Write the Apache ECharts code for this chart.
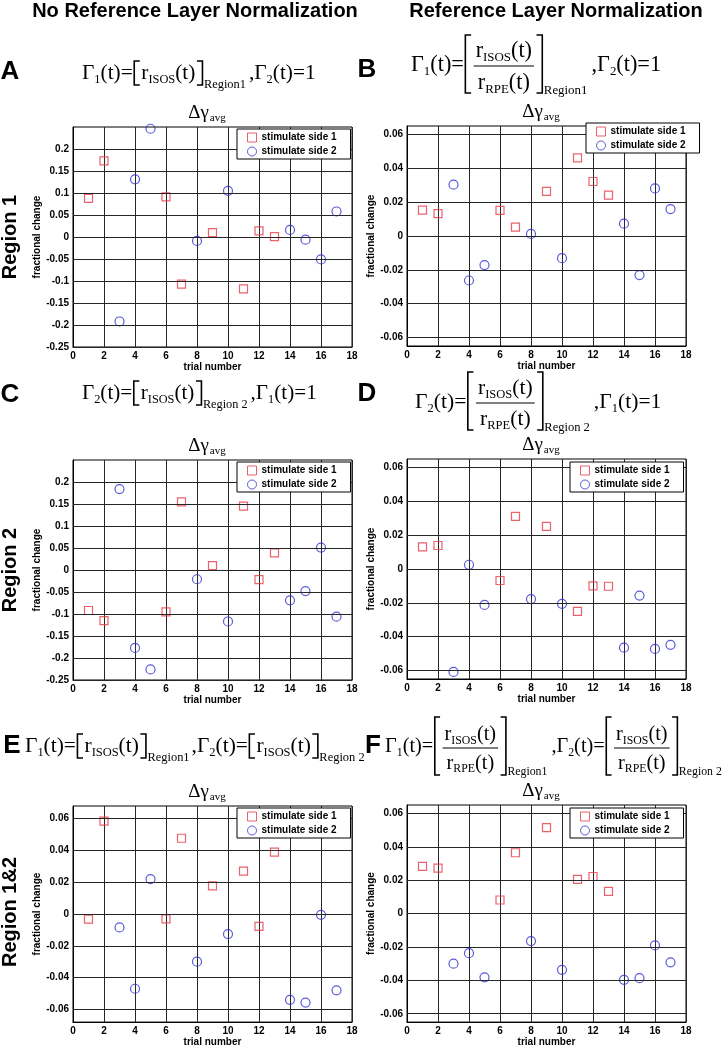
<!DOCTYPE html>
<html><head><meta charset="utf-8">
<script src="https://cdn.jsdelivr.net/npm/echarts@6/dist/echarts.min.js"></script>
<style>html,body{margin:0;padding:0;background:#fff}#c{width:723px;height:1048px}</style>
</head><body><div id="c"></div>
<script>
// ---------------- data ----------------
const trialsSide1 = [1, 2, 6, 7, 9, 11, 12, 13];
const trialsSide2 = [3, 4, 5, 8, 10, 14, 15, 16, 17];
const xTicks = [0, 2, 4, 6, 8, 10, 12, 14, 16, 18];
const yTicksWide = [-0.25, -0.2, -0.15, -0.1, -0.05, 0, 0.05, 0.1, 0.15, 0.2];
const yTicksNarrow = [-0.06, -0.04, -0.02, 0, 0.02, 0.04, 0.06];
const seriesNames = ['stimulate side 1', 'stimulate side 2'];
const headers = ['No Reference Layer Normalization', 'Reference Layer Normalization'];
const panelLetters = ['A', 'B', 'C', 'D', 'E', 'F'];
const regionLabels = ['Region 1', 'Region 2', 'Region 1&2'];
const xName = 'trial number';
const yName = 'fractional change';

const aSide1 = [0.088, 0.173, 0.091, -0.107, 0.010, -0.118, 0.014, 0.001];
const aSide2 = [-0.192, 0.131, 0.246, -0.009, 0.105, 0.016, -0.006, -0.051, 0.058];
const bSide1 = [0.0153, 0.0132, 0.0151, 0.0052, 0.0264, 0.0462, 0.0322, 0.0241];
const bSide2 = [0.0303, -0.0263, -0.0172, 0.0012, -0.0131, 0.0073, -0.0231, 0.0281, 0.0159];
const cSide1 = [-0.092, -0.115, -0.095, 0.155, 0.010, 0.145, -0.022, 0.039];
const cSide2 = [0.184, -0.177, -0.226, -0.021, -0.117, -0.069, -0.048, 0.051, -0.106];
const dSide1 = [0.0131, 0.0139, -0.0068, 0.0311, 0.0252, -0.0250, -0.0100, -0.0102];
const dSide2 = [-0.0608, 0.0025, -0.0212, -0.0178, -0.0206, -0.0465, -0.0157, -0.0472, -0.0448];
const eSide1 = [-0.0032, 0.0585, -0.0030, 0.0477, 0.0177, 0.0270, -0.0077, 0.0390];
const eSide2 = [-0.0084, -0.0470, 0.0220, -0.0300, -0.0126, -0.0540, -0.0557, -0.0005, -0.0480];
const fSide1 = [0.0283, 0.0272, 0.0081, 0.0364, 0.0515, 0.0205, 0.0222, 0.0133];
const fSide2 = [-0.0300, -0.0237, -0.0382, -0.0165, -0.0337, -0.0397, -0.0387, -0.0191, -0.0292];

const panelValues = [[aSide1, aSide2], [bSide1, bSide2], [cSide1, cSide2], [dSide1, dSide2], [eSide1, eSide2], [fSide1, fSide2]];

// ---------------- layout / style ----------------
const RED = '#e63b46', BLUE = '#3232d0', GRIDC = '#262626';
const SERIF = '"Liberation Serif","Times New Roman",serif';
const SANS = '"Liberation Sans",Arial,sans-serif';
const PW = 279;
const panelLayout = [
  {left: 73, top: 127, height: 220, min: -0.25, max: 0.25, step: 0.05, ticks: yTicksWide, legend: [237, 129]},
  {left: 407, top: 126, height: 220, min: -0.065, max: 0.065, step: 0.005, ticks: yTicksNarrow, legend: [586, 123]},
  {left: 73, top: 460, height: 220, min: -0.25, max: 0.25, step: 0.05, ticks: yTicksWide, legend: [237, 462]},
  {left: 407, top: 459, height: 220, min: -0.065, max: 0.065, step: 0.005, ticks: yTicksNarrow, legend: [570, 462]},
  {left: 73, top: 806, height: 219, min: -0.068, max: 0.068, step: 0.004, ticks: yTicksNarrow, legend: [237, 808]},
  {left: 407, top: 805, height: 219, min: -0.065, max: 0.065, step: 0.005, ticks: yTicksNarrow, legend: [570, 808]}
];

const grids = [], xAxes = [], yAxes = [], series = [], legends = [];
panelLayout.forEach((P, i) => {
  grids.push({left: P.left, top: P.top, width: PW, height: P.height, show: true, borderColor: '#000', borderWidth: 1, backgroundColor: 'transparent'});
  xAxes.push({
    type: 'value', gridIndex: i, min: xTicks[0], max: xTicks[xTicks.length - 1], interval: xTicks[1] - xTicks[0],
    axisLine: {show: true, onZero: false, lineStyle: {color: '#000', width: 1}},
    axisTick: {show: false},
    splitLine: {show: true, lineStyle: {color: GRIDC, width: 1}},
    axisLabel: {color: '#000', fontWeight: 'bold', fontSize: 10, fontFamily: SANS, margin: 4},
    name: xName, nameLocation: 'middle', nameGap: 14,
    nameTextStyle: {color: '#000', fontWeight: 'bold', fontSize: 10, fontFamily: SANS}
  });
  yAxes.push({
    type: 'value', gridIndex: i, min: P.min, max: P.max, interval: P.step,
    axisLine: {show: true, onZero: false, lineStyle: {color: '#000', width: 1}},
    axisTick: {show: false},
    splitLine: {show: false},
    axisLabel: {color: '#000', fontWeight: 'bold', fontSize: 10, fontFamily: SANS, margin: 4,
      formatter: v => { const t = P.ticks.find(t => Math.abs(t - v) < 1e-7); return t === undefined ? '' : String(t); }},
    name: yName, nameLocation: 'middle', nameGap: 22,
    nameTextStyle: {color: '#000', fontWeight: 'bold', fontSize: 10, fontFamily: SANS}
  });
  const vals = panelValues[i];
  series.push({
    type: 'scatter', name: 'gridlines', xAxisIndex: i, yAxisIndex: i, data: [], symbol: 'none', z: 1, silent: true,
    markLine: {silent: true, symbol: ['none', 'none'], label: {show: false}, animation: false,
      lineStyle: {color: GRIDC, width: 1, type: 'solid'}, emphasis: {disabled: true},
      data: P.ticks.map(t => ({yAxis: t}))}
  });
  series.push({
    type: 'scatter', name: seriesNames[0], xAxisIndex: i, yAxisIndex: i, symbol: 'rect', symbolSize: 8, z: 3,
    itemStyle: {color: 'transparent', borderColor: RED, borderWidth: 1.2},
    data: trialsSide1.map((t, j) => [t, vals[0][j]])
  });
  series.push({
    type: 'scatter', name: seriesNames[1], xAxisIndex: i, yAxisIndex: i, symbol: 'circle', symbolSize: 9, z: 3,
    itemStyle: {color: 'transparent', borderColor: BLUE, borderWidth: 1.2},
    data: trialsSide2.map((t, j) => [t, vals[1][j]])
  });
  legends.push({
    left: P.legend[0], top: P.legend[1], orient: 'vertical', itemGap: 3, itemWidth: 9, itemHeight: 9,
    padding: [3, 14, 2, 10], backgroundColor: '#fff', borderColor: '#000', borderWidth: 1, borderRadius: 0,
    selectedMode: false, z: 10,
    textStyle: {fontSize: 10, fontWeight: 'bold', fontFamily: SANS, color: '#000', lineHeight: 11},
    data: [
      {name: seriesNames[0], icon: 'rect', itemStyle: {color: 'transparent', borderColor: RED, borderWidth: 1}},
      {name: seriesNames[1], icon: 'circle', itemStyle: {color: 'transparent', borderColor: BLUE, borderWidth: 1}}
    ]
  });
});

// ---------------- text / formula graphics ----------------
const mctx = document.createElement('canvas').getContext('2d');
function mw(t, fs, fam, wt) { mctx.font = (wt || 'normal') + ' ' + fs + 'px ' + fam; return mctx.measureText(t).width; }
function txtEl(t, x, y, fs, fam, wt, align) {
  return {type: 'text', x: x, y: y, silent: true, z: 20,
    style: {text: t, fontSize: fs, fontFamily: fam, fontWeight: wt || 'normal', fill: '#000', align: align || 'left', verticalAlign: 'middle'}};
}
const T = t => ({k: 't', t});
const S = (t, dy, after) => ({k: 's', t, dy, after});
const brS = side => ({k: 'b', side, top: -12, bot: 12});
const brF = side => ({k: 'b', side, top: -30, bot: 28});
const frac = () => ({k: 'f', num: [T('r'), S('ISOS'), T('(t)')], den: [T('r'), S('RPE'), T('(t)')]});

function lay(items, x, y, fs, out) {
  let cx = x;
  const sub = fs * 0.58;
  for (const it of items) {
    if (it.k === 't') {
      if (out) out.push(txtEl(it.t, cx, y, fs, SERIF));
      cx += mw(it.t, fs, SERIF);
    } else if (it.k === 's') {
      const dy = it.dy != null ? it.dy : fs * 0.3;
      if (out) out.push(txtEl(it.t, cx, y + dy, sub, SERIF));
      cx += mw(it.t, sub, SERIF) + (it.after || 0);
    } else if (it.k === 'b') {
      const bw = Math.max(4, fs * 0.26);
      const top = y + it.top, bot = y + it.bot;
      if (out) {
        const xa = cx + 1.5, xb = cx + 1.5 + bw;
        const pts = it.side === 'l' ? [[xb, top], [xa, top], [xa, bot], [xb, bot]] : [[xa, top], [xb, top], [xb, bot], [xa, bot]];
        out.push({type: 'polyline', silent: true, z: 20, shape: {points: pts}, style: {stroke: '#000', lineWidth: 1.6, fill: null}});
      }
      cx += bw + 3;
    } else if (it.k === 'f') {
      const wn = lay(it.num, 0, 0, fs, null), wd = lay(it.den, 0, 0, fs, null);
      const w = Math.max(wn, wd) + 6;
      if (out) {
        lay(it.num, cx + (w - wn) / 2, y - fs * 0.62, fs, out);
        lay(it.den, cx + (w - wd) / 2, y + fs * 0.8, fs, out);
        out.push({type: 'line', silent: true, z: 20, shape: {x1: cx + 1, y1: y + 1, x2: cx + w - 1, y2: y + 1}, style: {stroke: '#000', lineWidth: 1}});
      }
      cx += w;
    }
  }
  return cx - x;
}
function fitFormula(items, x0, x1, y, out) {
  const base = 21;
  const w = lay(items, 0, 0, base, null);
  const fs = base * (x1 - x0) / w;
  lay(items, x0, y, fs, out);
}

const formulas = [
  {items: [T('Γ'), S('1'), T('(t)='), brS('l'), T('r'), S('ISOS'), T('(t)'), brS('r'), S('Region1', 12, 3), T(',Γ'), S('2'), T('(t)=1')], x0: 82, x1: 316, y: 73},
  {items: [T('Γ'), S('1'), T('(t)='), brF('l'), frac(), brF('r'), S('Region1', 26, 4), T(',Γ'), S('2'), T('(t)=1')], x0: 411, x1: 662, y: 65},
  {items: [T('Γ'), S('2'), T('(t)='), brS('l'), T('r'), S('ISOS'), T('(t)'), brS('r'), S('Region 2', 12, 3), T(',Γ'), S('1'), T('(t)=1')], x0: 82, x1: 317, y: 393},
  {items: [T('Γ'), S('2'), T('(t)='), brF('l'), frac(), brF('r'), S('Region 2', 26, 4), T(',Γ'), S('1'), T('(t)=1')], x0: 415, x1: 662, y: 402},
  {items: [T('Γ'), S('1'), T('(t)='), brS('l'), T('r'), S('ISOS'), T('(t)'), brS('r'), S('Region1', 12, 2), T(',Γ'), S('2'), T('(t)='), brS('l'), T('r'), S('ISOS'), T('(t)'), brS('r'), S('Region 2', 12)], x0: 25, x1: 365, y: 746},
  {items: [T('Γ'), S('1'), T('(t)='), brF('l'), frac(), brF('r'), S('Region1', 25, 4), T(',Γ'), S('2'), T('(t)='), brF('l'), frac(), brF('r'), S('Region 2', 25)], x0: 385, x1: 721, y: 747}
];

const letterPos = [[10, 72], [367, 70], [10, 395], [367, 394], [12, 746], [373, 746]];
const regionPos = [[10, 237], [10, 570], [10, 912]];

const els = [];
els.push(txtEl(headers[0], 195, 11, 20, SANS, 'bold', 'center'));
els.push(txtEl(headers[1], 556, 11, 20, SANS, 'bold', 'center'));
panelLetters.forEach((L, i) => els.push(txtEl(L, letterPos[i][0], letterPos[i][1], 26, SANS, 'bold', 'center')));
formulas.forEach(f => fitFormula(f.items, f.x0, f.x1, f.y, els));
panelLayout.forEach(P => {
  const cx = P.left + PW / 2 - 6, cy = P.top - 14;
  const fs = 19, ss = 11;
  const w1 = mw('Δγ', fs, SERIF), w2 = mw('avg', ss, SERIF);
  const x = cx - (w1 + w2) / 2;
  els.push(txtEl('Δγ', x, cy, fs, SERIF));
  els.push(txtEl('avg', x + w1 + 1, cy + 5, ss, SERIF));
});
regionLabels.forEach((r, i) => {
  const e = txtEl(r, regionPos[i][0], regionPos[i][1], 20, SANS, 'bold', 'center');
  e.rotation = Math.PI / 2;
  els.push(e);
});

const chart = echarts.init(document.getElementById('c'), null, {renderer: 'canvas'});
chart.setOption({
  animation: false,
  backgroundColor: '#fff',
  grid: grids, xAxis: xAxes, yAxis: yAxes, series: series, legend: legends,
  graphic: {elements: els}
});
</script>
</body></html>
